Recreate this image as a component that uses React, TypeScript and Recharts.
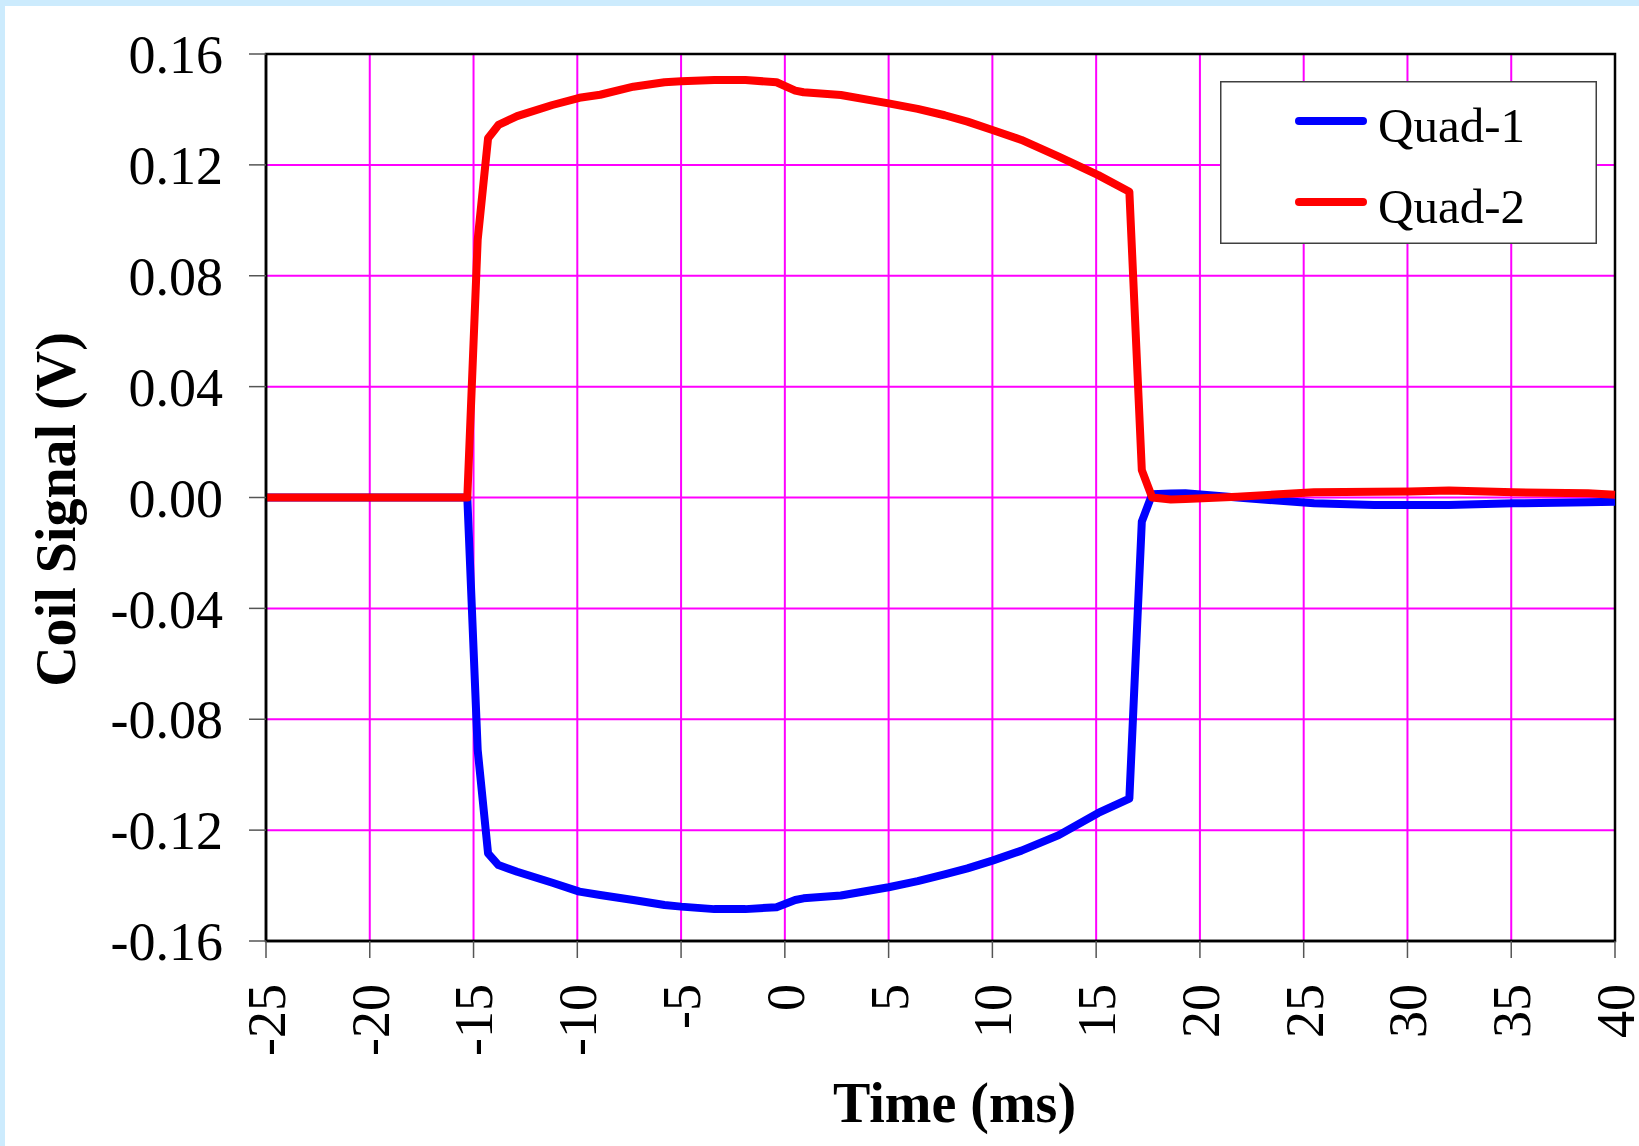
import React from 'react';
import { LineChart, Line, XAxis, YAxis, CartesianGrid, Legend, ReferenceArea, Label } from 'recharts';

const timeMs = [
  -25, -20, -17, -15.3, -14.8, -14.3, -13.8, -12.9, -11.2, -9.9, -8.9, -7.3, -5.8, -5.0, -3.4, -1.9, -0.4,
  0.5, 0.9, 2.7, 5.0, 6.4, 7.7, 8.8, 10.0, 11.4, 13.2, 15.1, 16.6, 17.2, 17.7, 18.6, 19.3, 21.8, 25.5,
  28.4, 30.1, 32.0, 35.1, 38.7, 40,
];

const quad1 = [
  0, 0, 0, 0, -0.0911, -0.1284, -0.1326, -0.135, -0.139, -0.1422, -0.1434, -0.1452, -0.147, -0.1476,
  -0.1485, -0.1485, -0.1478, -0.1452, -0.1446, -0.1436, -0.1406, -0.1384, -0.136, -0.1338, -0.131,
  -0.1274, -0.1218, -0.1138, -0.1086, -0.0087, 0.0012, 0.0014, 0.0015, 0.0, -0.0021, -0.0027, -0.0027,
  -0.0027, -0.0021, -0.0017, -0.0015,
];

const quad2 = [
  0, 0, 0, 0, 0.093, 0.1296, 0.1344, 0.1376, 0.1416, 0.1442, 0.1453, 0.1482, 0.1498, 0.1502, 0.1506,
  0.1506, 0.1498, 0.1468, 0.1462, 0.1452, 0.1422, 0.1402, 0.1379, 0.1356, 0.1326, 0.129, 0.123, 0.1163,
  0.1103, 0.0099, 0.0, -0.0007, -0.0005, 0.0003, 0.0019, 0.0021, 0.0022, 0.0025, 0.0019, 0.0015, 0.001,
];

const xTicks = [-25, -20, -15, -10, -5, 0, 5, 10, 15, 20, 25, 30, 35, 40];
const yTicks = [-0.16, -0.12, -0.08, -0.04, 0, 0.04, 0.08, 0.12, 0.16];

const seriesNames = ['Quad-1', 'Quad-2'];
const seriesColors = ['#0000FF', '#FF0000'];

const data = timeMs.map((t, i) => ({ t, q1: quad1[i], q2: quad2[i] }));

const FONT = "'Liberation Serif', 'Times New Roman', serif";

const XTick = (props: any) => {
  const { x, y, payload } = props;
  return (
    <text
      x={x}
      y={y}
      transform={`rotate(-90, ${x}, ${y})`}
      textAnchor="end"
      dy="0.35em"
      fontSize={54}
      fontFamily={FONT}
      fill="#000"
    >
      {String(payload.value)}
    </text>
  );
};

const YTick = (props: any) => {
  const { x, y, payload } = props;
  return (
    <text x={x} y={y} textAnchor="end" dy="0.355em" fontSize={54} fontFamily={FONT} fill="#000">
      {Number(payload.value).toFixed(2)}
    </text>
  );
};

const LegendBox = () => (
  <svg width={377} height={163} style={{ display: 'block' }}>
    <rect x={0.75} y={0.75} width={375.5} height={161.5} fill="#fff" stroke="#404040" strokeWidth={1.5} />
    {seriesNames.map((name, i) => (
      <g key={name}>
        <line
          x1={79}
          x2={143}
          y1={40 + i * 81}
          y2={40 + i * 81}
          stroke={seriesColors[i]}
          strokeWidth={8}
          strokeLinecap="round"
        />
        <text x={158} y={61 + i * 81} fontSize={49} fontFamily={FONT} fill="#000">
          {name}
        </text>
      </g>
    ))}
  </svg>
);

const YTitle = (props: any) => {
  const vb = props.viewBox || { x: 0, y: 54, width: 266, height: 887 };
  const cx = vb.x + 75;
  const cy = vb.y + vb.height / 2 + 12;
  return (
    <text
      x={cx}
      y={cy}
      transform={`rotate(-90, ${cx}, ${cy})`}
      textAnchor="middle"
      fontSize={56}
      fontWeight="bold"
      fontFamily={FONT}
      fill="#000"
    >
      Coil Signal (V)
    </text>
  );
};

const XTitle = (props: any) => {
  const vb = props.viewBox || { x: 266, y: 941, width: 1349, height: 205 };
  const cx = vb.x + vb.width / 2 + 14;
  const cy = vb.y + 181;
  return (
    <text x={cx} y={cy} textAnchor="middle" fontSize={56} fontWeight="bold" fontFamily={FONT} fill="#000">
      Time (ms)
    </text>
  );
};

export default function App() {
  return (
    <div style={{ position: 'absolute', left: 0, top: 0, width: 1639, height: 1146, background: '#fff', overflow: 'hidden' }}>
      <div style={{ position: 'absolute', left: 0, top: 0, width: 1639, height: 6, background: '#CCEBFD' }} />
      <div style={{ position: 'absolute', left: 0, top: 0, width: 5, height: 1146, background: '#CCEBFD' }} />
      <div style={{ position: 'absolute', left: 0, top: 0 }}>
        <LineChart width={1639} height={1146} data={data} margin={{ top: 54, right: 24, bottom: 0, left: 0 }}>
          <CartesianGrid stroke="#FF00FF" strokeWidth={2} horizontalValues={yTicks} verticalValues={xTicks} />
          <XAxis
            dataKey="t"
            type="number"
            domain={[-25, 40]}
            ticks={xTicks}
            height={205}
            tickSize={17}
            tickMargin={26}
            tickLine={{ stroke: '#555', strokeWidth: 1.5 }}
            axisLine={{ stroke: '#000', strokeWidth: 2.5 }}
            tick={<XTick />}
            interval={0}
          >
            <Label content={<XTitle />} />
          </XAxis>
          <YAxis
            type="number"
            domain={[-0.16, 0.16]}
            ticks={yTicks}
            width={266}
            tickSize={17}
            tickMargin={26}
            tickLine={{ stroke: '#555', strokeWidth: 1.5 }}
            axisLine={{ stroke: '#000', strokeWidth: 2.5 }}
            tick={<YTick />}
            interval={0}
          >
            <Label content={<YTitle />} />
          </YAxis>
          <ReferenceArea x1={-25} x2={40} y1={-0.16} y2={0.16} fill="none" fillOpacity={0} stroke="#000" strokeWidth={2.5} />
          <Line
            dataKey="q1"
            name={seriesNames[0]}
            type="linear"
            stroke={seriesColors[0]}
            strokeWidth={8}
            dot={false}
            strokeLinejoin="round"
            isAnimationActive={false}
          />
          <Line
            dataKey="q2"
            name={seriesNames[1]}
            type="linear"
            stroke={seriesColors[1]}
            strokeWidth={8}
            dot={false}
            strokeLinejoin="round"
            isAnimationActive={false}
          />
          <Legend
            layout="vertical"
            align="center"
            verticalAlign="middle"
            content={<LegendBox />}
            wrapperStyle={{ position: 'absolute', left: 1220, top: 81, width: 377, height: 163 }}
          />
        </LineChart>
      </div>
    </div>
  );
}
